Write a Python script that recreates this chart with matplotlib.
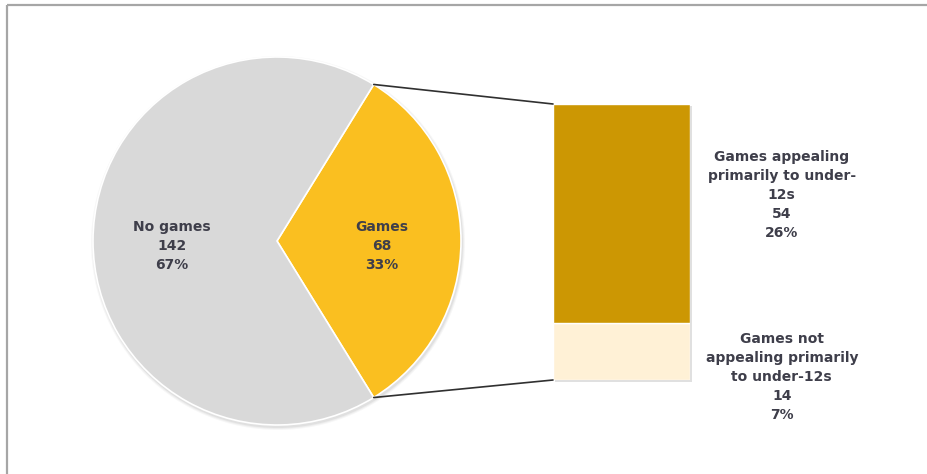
import matplotlib

matplotlib.use("Agg")
import matplotlib.pyplot as plt
import numpy as np
from matplotlib.patches import ConnectionPatch, Rectangle

# top level split
pie_names = ["Games", "No games"]
pie_counts = [68, 142]
pie_pcts = [33, 67]

# breakdown of the "Games" slice
bar_names = ["Games not\nappealing primarily\nto under-12s",
             "Games appealing\nprimarily to under-\n12s"]
bar_counts = [14, 54]
bar_pcts = [7, 26]

GREY = "#d9d9d9"
GOLD = "#fabf20"
DARK_GOLD = "#cc9703"
CREAM = "#fff1d6"
TEXT = "#3e3e4a"

W, H = 927, 474
fig = plt.figure(figsize=(W / 100, H / 100), dpi=100)

# main axes in pixel units, y pointing down
ax = fig.add_axes([0, 0, 1, 1])

# outer chart frame (runs past the right and bottom edges)
ax.add_patch(Rectangle((7, 5), W + 20, H + 20, fill=False,
                       edgecolor="#a6a6a6", linewidth=1.6, clip_on=False))

cx, cy, r = 277, 241, 184
games_angle = 360 * pie_counts[0] / sum(pie_counts)

# soft shadow behind the pie
for k, a in enumerate([0.05, 0.04, 0.03]):
    ax.add_patch(plt.Circle((cx + 1, cy + 2), r + 1 + k, color="#000000",
                            alpha=a, linewidth=0, zorder=1))

wedges, _ = ax.pie(pie_counts, colors=[GOLD, GREY], center=(cx, cy), radius=r,
                   startangle=-games_angle / 2, counterclock=True,
                   wedgeprops=dict(edgecolor="white", linewidth=1.2, zorder=2),
                   frame=True)
ax.set_xlim(0, W)
ax.set_ylim(H, 0)
ax.set_aspect("equal")
ax.axis("off")

for w, name, n, p in zip(wedges, pie_names, pie_counts, pie_pcts):
    mid = np.deg2rad((w.theta1 + w.theta2) / 2)
    tx = cx + 0.57 * r * np.cos(mid)
    ty = cy + 0.57 * r * np.sin(mid) + 5
    ax.text(tx, ty, f"{name}\n{n}\n{p}%", ha="center", va="center",
            fontsize=10, fontweight="bold", color=TEXT, linespacing=1.45,
            zorder=5)

# stacked bar for the breakdown
bx0, by0, bw, bh = 553, 104, 137, 276
ax_bar = fig.add_axes([bx0 / W, 1 - (by0 + bh) / H, bw / W, bh / H])
ax_bar.set_xlim(-0.5, 0.5)
ax_bar.set_ylim(0, sum(bar_counts))
ax_bar.axis("off")

# bar shadow
ax.add_patch(Rectangle((bx0 + 2, by0 + 2), bw, bh, color="#000000",
                       alpha=0.12, linewidth=0, zorder=1))

bottom = 0
for n, c in zip(bar_counts, [CREAM, DARK_GOLD]):
    ax_bar.bar(0, n, width=1, bottom=bottom, color=c,
               edgecolor="white", linewidth=1)
    bottom += n

label_y = [0.7, 45.5]
for name, n, p, y in zip(bar_names, bar_counts, bar_pcts, label_y):
    ax_bar.text(1.17, y, f"{name}\n{n}\n{p}%", ha="center", va="center",
                fontsize=10, fontweight="bold", color=TEXT, linespacing=1.45,
                clip_on=False)

# connector lines from the edges of the Games slice to the bar corners
# (y runs downward, so the negative angle is the upper edge)
for theta, yb in [(wedges[0].theta1, 1), (wedges[0].theta2, 0)]:
    t = np.deg2rad(theta)
    px, py = cx + r * np.cos(t), cy + r * np.sin(t)
    con = ConnectionPatch(xyA=(px, py), coordsA=ax.transData,
                          xyB=(0, yb), coordsB=ax_bar.transAxes,
                          color="#303030", linewidth=1.2)
    fig.add_artist(con)

fig.savefig("out.png", dpi=100)
